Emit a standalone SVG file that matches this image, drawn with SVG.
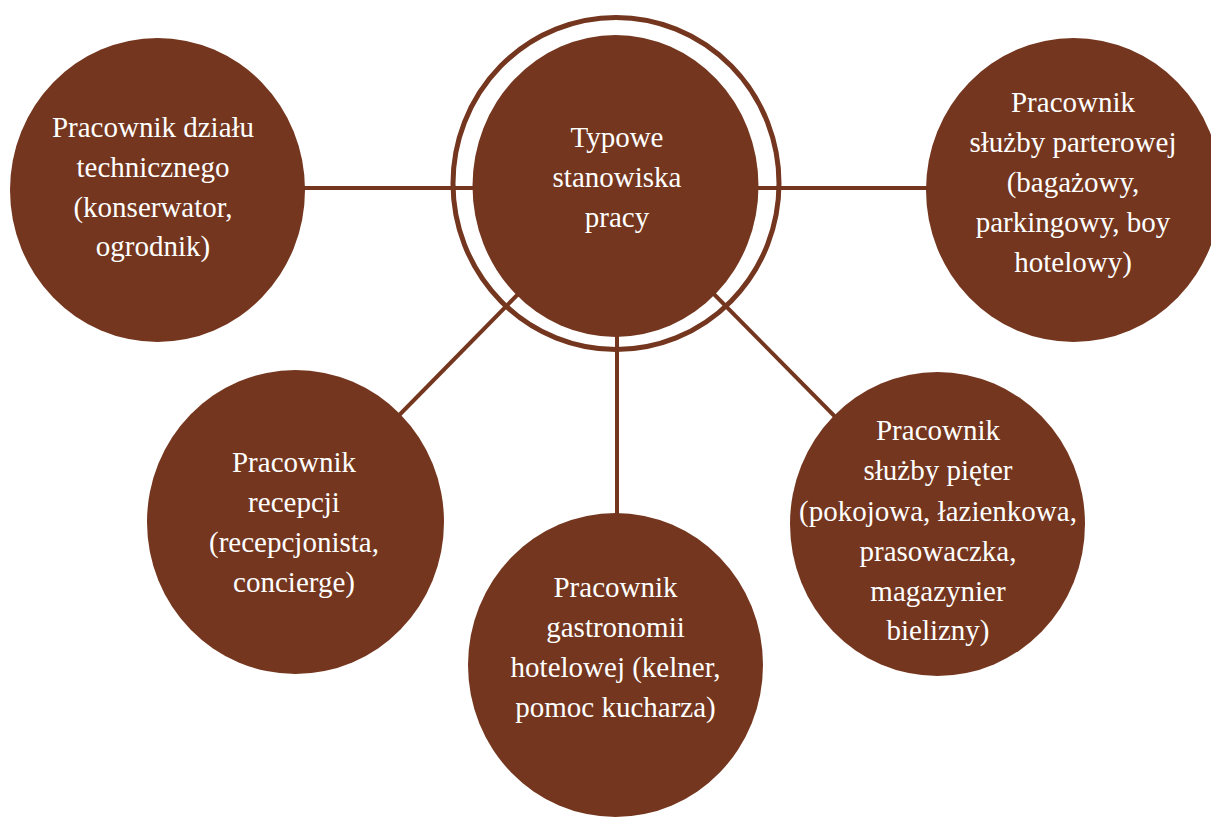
<svg xmlns="http://www.w3.org/2000/svg" width="1211" height="818" viewBox="0 0 1211 818">
<style>
.node{fill:#74361e}
.ring{fill:none;stroke:#74361e;stroke-width:5}
.conn{stroke:#74361e;stroke-width:4;fill:none}
text{font-family:"Liberation Serif","DejaVu Serif",serif;font-size:29px;fill:#ffffff;text-anchor:middle}
</style>
<rect width="1211" height="818" fill="#ffffff"/>
<g id="connectors">
<line class="conn" x1="200" y1="188" x2="1000" y2="188"/>
<line class="conn" x1="617" y1="300" x2="617" y2="560"/>
<line class="conn" x1="530" y1="282" x2="360" y2="455"/>
<line class="conn" x1="700" y1="280" x2="870" y2="452"/>
</g>
<g id="center">
<ellipse class="ring" cx="616" cy="183.5" rx="163" ry="166"/>
<ellipse class="node" cx="615.5" cy="186" rx="143" ry="151"/>
<text x="617" y="147">Typowe</text>
<text x="617" y="187">stanowiska</text>
<text x="617" y="227">pracy</text>
</g>
<g id="node-techniczny">
<ellipse class="node" cx="157.5" cy="190" rx="147.5" ry="152"/>
<text x="153" y="137">Pracownik działu</text>
<text x="153" y="177">technicznego</text>
<text x="153" y="217">(konserwator,</text>
<text x="153" y="256">ogrodnik)</text>
</g>
<g id="node-parterowa">
<ellipse class="node" cx="1073.5" cy="190" rx="147.5" ry="152"/>
<text x="1073" y="112">Pracownik</text>
<text x="1073" y="152">służby parterowej</text>
<text x="1073" y="192">(bagażowy,</text>
<text x="1073" y="232">parkingowy, boy</text>
<text x="1073" y="272">hotelowy)</text>
</g>
<g id="node-recepcja">
<ellipse class="node" cx="295.5" cy="522" rx="148.5" ry="152"/>
<text x="294" y="472">Pracownik</text>
<text x="294" y="512">recepcji</text>
<text x="294" y="552">(recepcjonista,</text>
<text x="294" y="592">concierge)</text>
</g>
<g id="node-gastronomia">
<ellipse class="node" cx="615.5" cy="665" rx="147.5" ry="152"/>
<text x="615.5" y="597">Pracownik</text>
<text x="615.5" y="637">gastronomii</text>
<text x="615.5" y="677">hotelowej (kelner,</text>
<text x="615.5" y="717">pomoc kucharza)</text>
</g>
<g id="node-pietra">
<ellipse class="node" cx="937.5" cy="524" rx="147.5" ry="152"/>
<text x="938" y="440">Pracownik</text>
<text x="938" y="480">służby pięter</text>
<text x="938" y="521">(pokojowa, łazienkowa,</text>
<text x="938" y="561">prasowaczka,</text>
<text x="938" y="601">magazynier</text>
<text x="938" y="640">bielizny)</text>
</g>
</svg>
